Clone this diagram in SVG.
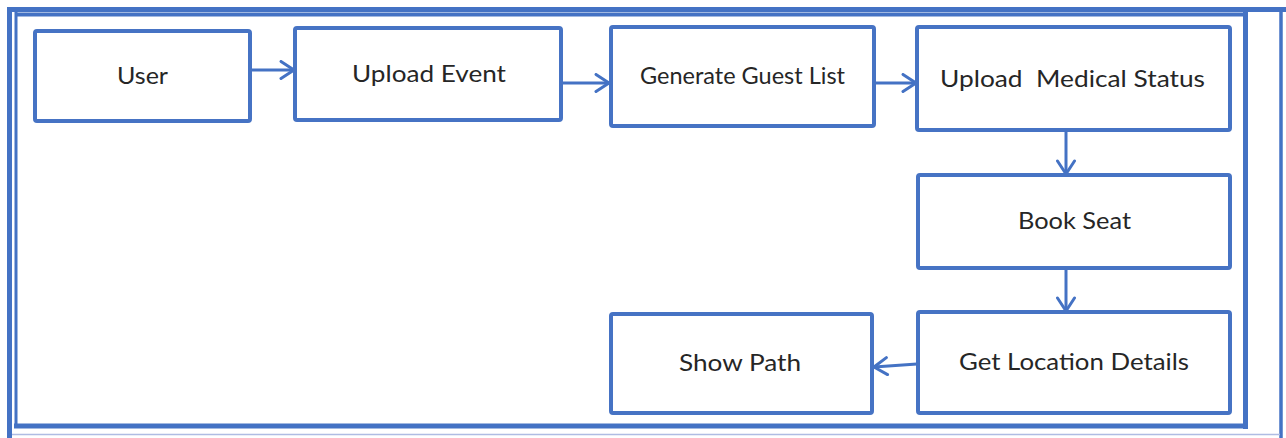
<svg xmlns="http://www.w3.org/2000/svg" width="1286" height="438" viewBox="0 0 1286 438">
  <defs>
    <style>
      .frame { stroke: #4472C4; fill: none; }
      .box { fill: #FFFFFF; stroke: #4673C4; stroke-width: 4; }
      .lbl { font-family: Lato, "Open Sans", "Liberation Sans", sans-serif; font-size: 24px; fill: #262626; }
      .edge { stroke: #4472C4; stroke-width: 3; fill: none; marker-end: url(#arrow); }
    </style>
    <marker id="arrow" viewBox="0 0 16 20" refX="15" refY="10" markerWidth="16" markerHeight="20" markerUnits="userSpaceOnUse" orient="auto">
      <path d="M2,1.5 L15,10 L2,18.5" fill="none" stroke="#4472C4" stroke-width="3" stroke-linecap="round" stroke-linejoin="round"/>
    </marker>
  </defs>

  <rect width="1286" height="438" fill="#FFFFFF"/>

  <!-- page frame -->
  <g id="frame">
    <line class="frame" x1="7" y1="9.5" x2="1286" y2="9.5" stroke-width="5"/>
    <line class="frame" x1="9.5" y1="7" x2="9.5" y2="438" stroke-width="5"/>
    <line class="frame" x1="1281" y1="7" x2="1281" y2="438" stroke-width="3.5"/>
    <line class="frame" x1="15" y1="14.5" x2="1248" y2="14.5" stroke-width="4"/>
    <line class="frame" x1="16" y1="12" x2="16" y2="428" stroke-width="3"/>
    <line class="frame" x1="1245.5" y1="7" x2="1245.5" y2="429" stroke-width="5"/>
    <line class="frame" x1="14" y1="426" x2="1248" y2="426" stroke-width="5"/>
    <line x1="12" y1="434.5" x2="1280" y2="434.5" stroke="#AFBCE3" stroke-width="1.5"/>
  </g>

  <!-- connectors -->
  <g id="connectors">
    <line class="edge" x1="250" y1="70" x2="294" y2="70"/>
    <line class="edge" x1="562" y1="83" x2="609" y2="83"/>
    <line class="edge" x1="873" y1="83" x2="916" y2="83"/>
    <line class="edge" x1="1066" y1="130" x2="1066" y2="174"/>
    <line class="edge" x1="1066" y1="268" x2="1066" y2="311"/>
    <line class="edge" x1="917" y1="364" x2="874" y2="367"/>
  </g>

  <g id="user">
    <rect class="box" x="35" y="31" width="215" height="90" rx="2"/>
    <text class="lbl" x="117" y="84" textLength="51" lengthAdjust="spacingAndGlyphs">User</text>
  </g>
  <g id="upload-event">
    <rect class="box" x="295" y="28" width="266" height="92" rx="2"/>
    <text class="lbl" x="352" y="82" textLength="154" lengthAdjust="spacingAndGlyphs">Upload Event</text>
  </g>
  <g id="generate-guest-list">
    <rect class="box" x="611" y="27" width="263" height="99" rx="2"/>
    <text class="lbl" x="640" y="84" font-size="22" textLength="205" lengthAdjust="spacingAndGlyphs">Generate Guest List</text>
  </g>
  <g id="upload-medical-status">
    <rect class="box" x="917" y="27" width="313" height="103" rx="2"/>
    <text class="lbl" x="940" y="87" textLength="265" lengthAdjust="spacingAndGlyphs" xml:space="preserve">Upload  Medical Status</text>
  </g>
  <g id="book-seat">
    <rect class="box" x="918" y="175" width="312" height="93" rx="2"/>
    <text class="lbl" x="1018" y="229" textLength="113" lengthAdjust="spacingAndGlyphs">Book Seat</text>
  </g>
  <g id="get-location-details">
    <rect class="box" x="918" y="312" width="312" height="101" rx="2"/>
    <text class="lbl" x="959" y="370" textLength="230" lengthAdjust="spacingAndGlyphs">Get Location Details</text>
  </g>
  <g id="show-path">
    <rect class="box" x="611" y="314" width="261" height="99" rx="2"/>
    <text class="lbl" x="679" y="371" textLength="122" lengthAdjust="spacingAndGlyphs">Show Path</text>
  </g>
</svg>
